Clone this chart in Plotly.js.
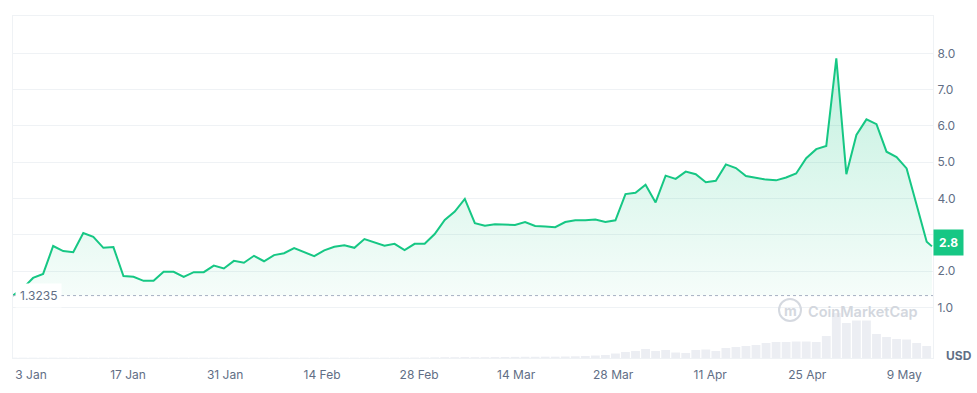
<!DOCTYPE html>
<html>
<head>
<meta charset="utf-8">
<script src="https://cdn.plot.ly/plotly-3.0.1.min.js"></script>
<style>
  html, body { margin: 0; padding: 0; background: #ffffff; }
  #chart { width: 977px; height: 393px; }
</style>
</head>
<body>
<div id="chart"></div>
<script>
// ---- data ----
// price samples, evenly spaced in time (~34.8 h apart), starting 31 Dec
const startTime = '2022-12-31T09:40:00Z';
const stepHours = 34.77;
const prices = [
  1.3235, 1.53, 1.81, 1.92, 2.69, 2.55, 2.52, 3.05, 2.94, 2.64,
  2.66, 1.86, 1.84, 1.73, 1.73, 1.98, 1.98, 1.84, 1.97, 1.97,
  2.15, 2.07, 2.28, 2.23, 2.42, 2.27, 2.44, 2.49, 2.63, 2.53,
  2.41, 2.57, 2.67, 2.71, 2.64, 2.88, 2.79, 2.70, 2.75, 2.58,
  2.75, 2.75, 3.02, 3.41, 3.64, 3.99, 3.32, 3.25, 3.29, 3.28,
  3.27, 3.35, 3.24, 3.23, 3.21, 3.35, 3.40, 3.40, 3.42, 3.35,
  3.40, 4.12, 4.16, 4.38, 3.89, 4.63, 4.54, 4.74, 4.67, 4.45,
  4.49, 4.94, 4.84, 4.62, 4.56, 4.52, 4.50, 4.58, 4.69, 5.11,
  5.36, 5.45, 7.86, 4.67, 5.75, 6.18, 6.05, 5.29, 5.14, 4.83,
  3.82, 2.81
];
// latest (live) price point
const lastTime = '2023-05-13T00:00:00Z';
const lastPrice = 2.68;
const currentPriceLabel = '2.8';
const openPrice = 1.3235;

// trading volume (relative units, millions USD) for each sample
const volumes = [
  0.3, 0.3, 0.3, 0.3, 0.3, 0.3, 0.3, 0.3, 0.3, 0.3,
  0.3, 0.3, 0.3, 0.3, 0.3, 0.3, 0.3, 0.3, 0.3, 0.3,
  0.3, 0.3, 0.3, 0.3, 0.3, 0.3, 0.3, 0.3, 0.3, 0.3,
  0.3, 0.3, 0.3, 0.3, 0.3, 0.3, 0.3, 0.3, 0.3, 0.3,
  0.4, 0.5, 0.6, 0.8, 0.8, 0.9, 0.8, 0.8, 0.9, 1.0,
  1.1, 1.2, 1.2, 1.3, 1.3, 1.5, 1.7, 2.0, 2.5, 3.0,
  4.5, 6.0, 7.0, 9.0, 7.0, 8.0, 5.5, 5.0, 8.0, 8.5,
  7.0, 10.0, 11.0, 12.0, 13.0, 15.0, 16.0, 16.0, 16.5, 16.5,
  16.0, 22.0, 45.0, 35.0, 37.5, 37.5, 24.0, 21.0, 19.0, 18.5,
  15.0, 12.0
];

const tickDates = ['2023-01-03','2023-01-17','2023-01-31','2023-02-14','2023-02-28',
                   '2023-03-14','2023-03-28','2023-04-11','2023-04-25','2023-05-09'];
const tickLabels = ['3 Jan','17 Jan','31 Jan','14 Feb','28 Feb',
                    '14 Mar','28 Mar','11 Apr','25 Apr','9 May'];
const priceTicks = [1, 2, 3, 4, 5, 6, 7, 8];
// 3.0 sits under the current-price badge, so its label is left blank
const priceTickLabels = ['1.0','2.0','','4.0','5.0','6.0','7.0','8.0'];

// ---- build series ----
const t0 = new Date(startTime).getTime();
const times = prices.map((_, i) => new Date(t0 + i * stepHours * 3600e3).toISOString());
const lineX = times.concat([lastTime]);
const lineY = prices.concat([lastPrice]);
const baseY = lineX.map(() => openPrice);

const green = '#16c784';
const grid = '#eff2f5';
const txt = '#616e85';

const traces = [
  { x: lineX, y: baseY, type: 'scatter', mode: 'lines',
    line: { width: 0, color: 'rgba(0,0,0,0)' }, hoverinfo: 'skip', showlegend: false },
  { x: lineX, y: lineY, type: 'scatter', mode: 'lines',
    line: { color: green, width: 2 },
    fill: 'tonexty',
    fillgradient: { type: 'vertical',
      colorscale: [[0, 'rgba(22,199,132,0.04)'], [1, 'rgba(22,199,132,0.26)']] },
    showlegend: false },
  { x: times, y: volumes, type: 'bar', yaxis: 'y2',
    marker: { color: '#eceef3' }, showlegend: false }
];

const rightEnd = new Date(new Date(lastTime).getTime() + 0.15 * 86400e3).toISOString();

const layout = {
  width: 977, height: 393,
  margin: { l: 13, r: 44, t: 16, b: 35 },
  paper_bgcolor: '#ffffff', plot_bgcolor: '#ffffff',
  font: { family: 'Inter, "Open Sans", sans-serif', color: txt, size: 12 },
  bargap: 0.12,
  xaxis: {
    type: 'date', range: [times[0], rightEnd],
    tickvals: tickDates, ticktext: tickLabels,
    showgrid: false, zeroline: false,
    showline: true, mirror: true, linecolor: grid, linewidth: 1,
    ticks: '', tickfont: { size: 12, color: txt },
    ticklabelstandoff: 6
  },
  yaxis: {
    range: [-0.397, 9.03], side: 'right',
    tickvals: priceTicks, ticktext: priceTickLabels,
    showgrid: true, gridcolor: grid, gridwidth: 1,
    zeroline: false, showline: true, mirror: true, linecolor: grid,
    ticks: '', tickfont: { size: 12, color: txt },
    ticklabelstandoff: 1
  },
  yaxis2: {
    overlaying: 'y', range: [0, 342], visible: false, fixedrange: true
  },
  shapes: [
    { type: 'line', xref: 'paper', x0: 0, x1: 1, yref: 'y', y0: openPrice, y1: openPrice,
      line: { color: '#a6b0c3', width: 1, dash: 'dot' } },
    { type: 'circle', xref: 'paper', yref: 'paper',
      x0: (779 - 13) / 920, x1: (801 - 13) / 920,
      y0: (358 - 321) / 342, y1: (358 - 299) / 342,
      line: { color: '#d5d9e0', width: 2 } }
  ],
  annotations: [
    { xref: 'paper', x: 0, xanchor: 'left', xshift: 2, yref: 'y', y: openPrice, yanchor: 'middle',
      text: '1.3235', showarrow: false, bgcolor: '#ffffff', borderpad: 4,
      font: { size: 12, color: txt } },
    { xref: 'paper', x: 1, xanchor: 'left', yref: 'y', y: 2.8, yanchor: 'middle',
      text: '<b>' + currentPriceLabel + '</b>', showarrow: false,
      bgcolor: green, borderpad: 5, font: { size: 12, color: '#ffffff' } },
    { xref: 'paper', x: (790 - 13) / 920, xanchor: 'center', yref: 'paper', y: (358 - 310) / 342,
      yanchor: 'middle', text: '<b>m</b>', showarrow: false, font: { size: 14, color: '#d5d9e0' } },
    { xref: 'paper', x: (806 - 13) / 920, xanchor: 'left', yref: 'paper', y: (358 - 311) / 342,
      yanchor: 'middle', text: 'CoinMarketCap', showarrow: false,
      font: { size: 14.5, color: '#d3d7de', weight: 600 } },
    { xref: 'paper', x: 1, xanchor: 'left', xshift: 11, yref: 'paper', y: 0, yanchor: 'middle',
      yshift: 3, text: '<b>USD</b>', showarrow: false, font: { size: 12, color: txt } }
  ]
};

Plotly.newPlot('chart', traces, layout, { staticPlot: true, displayModeBar: false });
</script>
</body>
</html>
